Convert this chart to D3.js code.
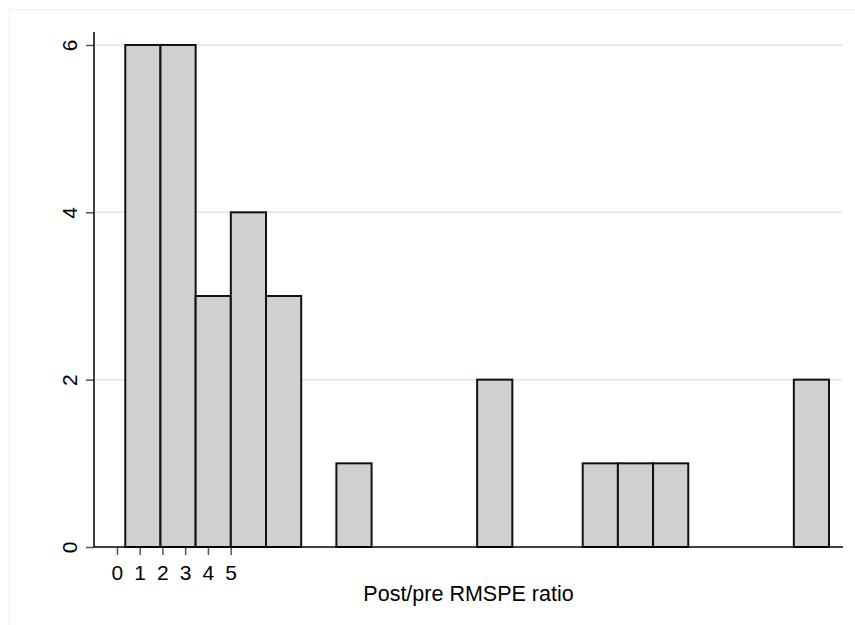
<!DOCTYPE html>
<html>
<head>
<meta charset="utf-8">
<script src="https://cdn.jsdelivr.net/npm/d3@7"></script>
<style>
    body { margin: 0; background: #fff; }
    svg { display: block; font-family: "Liberation Sans", Arial, sans-serif; }
</style>
</head>
<body>
<div id="chart"></div>
<script>
// Histogram of post/pre RMSPE ratios (counts per bin)
const binCounts = [6, 6, 3, 4, 3, 0, 1, 0, 0, 0, 2, 0, 0, 1, 1, 1, 0, 0, 0, 2];
const binStart = 0.365;
const binWidth = 1.5475;
const xTickValues = [0, 1, 2, 3, 4, 5];
const yTickValues = [0, 2, 4, 6];
const xTitle = "Post/pre RMSPE ratio";

const width = 855, height = 625;
const plot = { left: 94, right: 843, top: 32, bottom: 547 };

const svg = d3.select("#chart")
    .append("svg")
    .attr("width", width)
    .attr("height", height);

// faint outer frame
svg.append("rect")
    .attr("x", 9.5).attr("y", 9.5)
    .attr("width", width).attr("height", height)
    .attr("fill", "none")
    .attr("stroke", "#eef2f3")
    .attr("stroke-width", 1);

const x = d3.scaleLinear().domain([-1.01, 31.93]).range([plot.left, plot.right]);
const y = d3.scaleLinear().domain([0, 6.155]).range([plot.bottom, plot.top]);

// Gridlines
svg.append("g")
    .selectAll("line")
    .data(yTickValues.filter(d => d > 0))
    .enter().append("line")
    .attr("x1", plot.left).attr("x2", plot.right)
    .attr("y1", d => y(d)).attr("y2", d => y(d))
    .attr("stroke", "#e3ecee")
    .attr("stroke-width", 2);

// Bars
const bins = binCounts.map((c, i) => ({ x0: binStart + i * binWidth, x1: binStart + (i + 1) * binWidth, count: c }))
    .filter(d => d.count > 0);

svg.append("g")
    .selectAll("rect")
    .data(bins)
    .enter().append("rect")
    .attr("x", d => x(d.x0))
    .attr("y", d => y(d.count))
    .attr("width", d => x(d.x1) - x(d.x0))
    .attr("height", d => y(0) - y(d.count))
    .attr("fill", "#d0d0d0")
    .attr("stroke", "#111")
    .attr("stroke-width", 2);

// Y axis
const yAxis = svg.append("g")
    .attr("transform", `translate(${plot.left},0)`)
    .call(d3.axisLeft(y).tickValues(yTickValues).tickSize(8).tickFormat(d3.format("d")));
yAxis.select(".domain").remove();
yAxis.selectAll(".tick line").attr("stroke", "#555").attr("stroke-width", 1.5);
yAxis.selectAll(".tick text")
    .attr("font-size", 21)
    .attr("fill", "#000")
    .attr("text-anchor", "middle")
    .attr("transform", "rotate(-90)")
    .attr("x", 0)
    .attr("y", -17)
    .attr("dy", 0);
svg.append("line")
    .attr("x1", plot.left).attr("x2", plot.left)
    .attr("y1", plot.top).attr("y2", plot.bottom)
    .attr("stroke", "#000").attr("stroke-width", 1.5);

// X axis
const xAxis = svg.append("g")
    .attr("transform", `translate(0,${plot.bottom})`)
    .call(d3.axisBottom(x).tickValues(xTickValues).tickSize(8).tickFormat(d3.format("d")));
xAxis.select(".domain").remove();
xAxis.selectAll(".tick line").attr("stroke", "#555").attr("stroke-width", 1.5);
xAxis.selectAll(".tick text")
    .attr("font-size", 21)
    .attr("fill", "#000")
    .attr("y", 33)
    .attr("dy", 0);
svg.append("line")
    .attr("x1", plot.left).attr("x2", plot.right)
    .attr("y1", plot.bottom).attr("y2", plot.bottom)
    .attr("stroke", "#000").attr("stroke-width", 1.5);

// X title
svg.append("text")
    .attr("x", (plot.left + plot.right) / 2)
    .attr("y", 601)
    .attr("text-anchor", "middle")
    .attr("font-size", 21.5)
    .attr("fill", "#000")
    .text(xTitle);
</script>
</body>
</html>
